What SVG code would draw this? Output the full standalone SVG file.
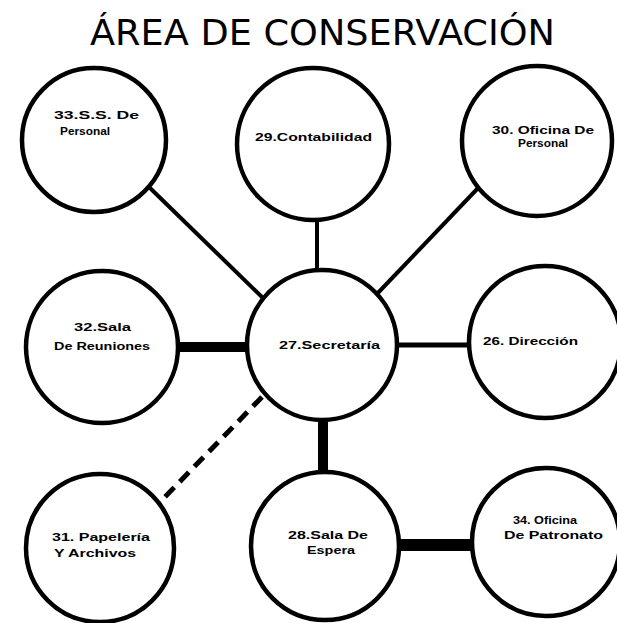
<svg xmlns="http://www.w3.org/2000/svg" width="617" height="623" viewBox="0 0 617 623">
<style>
.n{fill:#fff;stroke:#000;stroke-width:4.5}
.t{font-family:"Liberation Sans",Arial,sans-serif;font-weight:bold;font-size:11px;fill:#000}
.c{stroke:#000;fill:none;stroke-linecap:butt}
.title{font-family:"DejaVu Sans","Liberation Sans",sans-serif;font-size:36px;fill:#000}
</style>
<rect width="617" height="623" fill="#fff"/>
<text class="title" x="90" y="45" textLength="465" lengthAdjust="spacingAndGlyphs">ÁREA DE CONSERVACIÓN</text>
<g id="connectors">
<line class="c" x1="150" y1="188" x2="265" y2="300" stroke-width="4"/>
<line class="c" x1="317" y1="215" x2="317" y2="275" stroke-width="4"/>
<line class="c" x1="480" y1="186" x2="375" y2="296" stroke-width="4"/>
<line class="c" x1="175" y1="347" x2="250" y2="347" stroke-width="10"/>
<line class="c" x1="395" y1="345" x2="475" y2="345" stroke-width="5"/>
<line class="c" x1="262" y1="397" x2="160" y2="502" stroke-width="5" stroke-dasharray="13 8"/>
<line class="c" x1="323" y1="415" x2="323" y2="475" stroke-width="10"/>
<line class="c" x1="398" y1="545" x2="475" y2="545" stroke-width="12"/>
</g>
<g id="n33"><circle class="n" cx="94" cy="140" r="72"/>
<text class="t" x="54" y="119" textLength="85" lengthAdjust="spacingAndGlyphs">33.S.S. De</text>
<text class="t" x="60" y="135" textLength="50" lengthAdjust="spacingAndGlyphs">Personal</text></g>
<g id="n29"><circle class="n" cx="313" cy="144" r="76"/>
<text class="t" x="255" y="141" textLength="117" lengthAdjust="spacingAndGlyphs">29.Contabilidad</text></g>
<g id="n30"><circle class="n" cx="537" cy="141" r="75"/>
<text class="t" x="492" y="134" textLength="102" lengthAdjust="spacingAndGlyphs">30. Oficina De</text>
<text class="t" x="518" y="147" textLength="50" lengthAdjust="spacingAndGlyphs">Personal</text></g>
<g id="n32"><circle class="n" cx="102" cy="347" r="76"/>
<text class="t" x="74" y="331" textLength="57" lengthAdjust="spacingAndGlyphs">32.Sala</text>
<text class="t" x="54" y="350" textLength="96" lengthAdjust="spacingAndGlyphs">De Reuniones</text></g>
<g id="n27"><circle class="n" cx="322" cy="345" r="75"/>
<text class="t" x="279" y="349" textLength="101" lengthAdjust="spacingAndGlyphs">27.Secretaría</text></g>
<g id="n26"><circle class="n" cx="545" cy="342" r="76"/>
<text class="t" x="483" y="345" textLength="95" lengthAdjust="spacingAndGlyphs">26. Dirección</text></g>
<g id="n31"><circle class="n" cx="100" cy="548" r="74"/>
<text class="t" x="52" y="541" textLength="98" lengthAdjust="spacingAndGlyphs">31. Papelería</text>
<text class="t" x="54" y="557" textLength="82" lengthAdjust="spacingAndGlyphs">Y Archivos</text></g>
<g id="n28"><circle class="n" cx="325" cy="546" r="74"/>
<text class="t" x="288" y="539" textLength="80" lengthAdjust="spacingAndGlyphs">28.Sala De</text>
<text class="t" x="307" y="554" textLength="48" lengthAdjust="spacingAndGlyphs">Espera</text></g>
<g id="n34"><circle class="n" cx="546" cy="542" r="74"/>
<text class="t" x="513" y="524" textLength="64" lengthAdjust="spacingAndGlyphs">34. Oficina</text>
<text class="t" x="504" y="539" textLength="99" lengthAdjust="spacingAndGlyphs">De Patronato</text></g>
</svg>
